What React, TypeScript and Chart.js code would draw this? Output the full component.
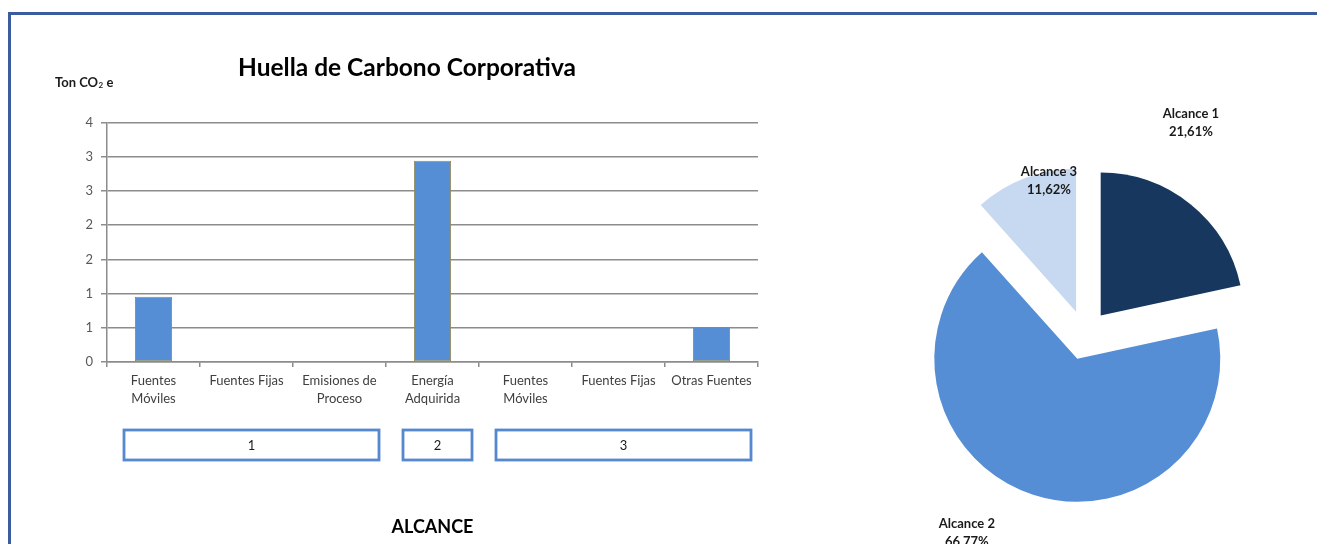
import React, { useEffect, useRef } from "react";
import { Chart, registerables } from "chart.js";

Chart.register(...registerables);

const FONT = "Lato, 'Open Sans', sans-serif";

// ---- data ----
const categoryLabels: string[][] = [
  ["Fuentes", "Móviles"],
  ["Fuentes Fijas"],
  ["Emisiones de", "Proceso"],
  ["Energía", "Adquirida"],
  ["Fuentes", "Móviles"],
  ["Fuentes Fijas"],
  ["Otras Fuentes"],
];
const emissionValues = [0.9515, 0, 0, 2.94, 0, 0, 0.5116];
const categoryScope = [1, 1, 1, 2, 3, 3, 3];
const scopeNumbers = ["1", "2", "3"];
const scopeNames = ["Alcance 1", "Alcance 2", "Alcance 3"];
const yTickLabels = ["0", "1", "1", "2", "2", "3", "3", "4"];
const yMax = 3.5;
const yStep = 0.5;

const scopeTotals = scopeNumbers.map((_, i) =>
  emissionValues.reduce((s, v, k) => (categoryScope[k] === i + 1 ? s + v : s), 0)
);

// ---- styles ----
const barFill = "#558ED5";
const barBorder = "#948A54";
const gridColor = "#8c8c8c";
const scopeColors = ["#17375E", "#558ED5", "#C6D9F1"];
const boxColor = "#5688CF";
const explodeDistance = 25;
const pieRadius = 143;
// label placement: angular shift (deg) from slice middle and distance as radius factor
const pieLabelPlacement = [
  { shift: -12.4, dist: 1.66 },
  { shift: 12.9, dist: 1.61 },
  { shift: 7.8, dist: 1.11 },
];

const unitLabelPlugin = {
  id: "unitLabel",
  afterDraw(chart: any) {
    const { ctx, chartArea } = chart;
    const x = chartArea.left - 52;
    const y = chartArea.top - 40;
    ctx.save();
    ctx.fillStyle = "#1a1a1a";
    ctx.textBaseline = "middle";
    ctx.textAlign = "left";
    ctx.font = `bold 13px ${FONT}`;
    const a = "Ton CO";
    ctx.fillText(a, x, y);
    let w = ctx.measureText(a).width;
    ctx.font = `bold 8px ${FONT}`;
    ctx.fillText("2", x + w + 0.5, y + 3);
    w += ctx.measureText("2").width + 0.5;
    ctx.font = `bold 13px ${FONT}`;
    ctx.fillText(" e", x + w, y);
    ctx.restore();
  },
};

const groupBoxPlugin = {
  id: "groupBoxes",
  afterDraw(chart: any) {
    const { ctx, chartArea } = chart;
    const xs = chart.scales.x;
    const half = (xs.getPixelForValue(1) - xs.getPixelForValue(0)) / 2;
    const top = chartArea.bottom + 68;
    const h = 30;
    ctx.save();
    scopeNumbers.forEach((num, gi) => {
      const idx = categoryScope
        .map((s, k) => (s === gi + 1 ? k : -1))
        .filter((k) => k >= 0);
      const left = xs.getPixelForValue(idx[0]) - half + 17;
      const right = xs.getPixelForValue(idx[idx.length - 1]) + half - 7;
      ctx.strokeStyle = boxColor;
      ctx.lineWidth = 2.8;
      ctx.strokeRect(left, top, right - left, h);
      ctx.fillStyle = "#1a1a1a";
      ctx.font = `13px ${FONT}`;
      ctx.textAlign = "center";
      ctx.textBaseline = "middle";
      ctx.fillText(num, (left + right) / 2, top + h / 2 + 1);
    });
    ctx.restore();
  },
};

const explodePlugin = {
  id: "explodeArcs",
  beforeDatasetDraw(chart: any, args: any) {
    const ctx = chart.ctx;
    args.meta.data.forEach((arc: any) => {
      const mid = (arc.startAngle + arc.endAngle) / 2;
      ctx.save();
      ctx.translate(Math.cos(mid) * explodeDistance, Math.sin(mid) * explodeDistance);
      arc.draw(ctx, chart.chartArea);
      ctx.restore();
    });
    return false;
  },
};

const pieLabelPlugin = {
  id: "pieLabels",
  afterDraw(chart: any) {
    const ctx = chart.ctx;
    const meta = chart.getDatasetMeta(0);
    const total = scopeTotals.reduce((a, b) => a + b, 0);
    ctx.save();
    ctx.fillStyle = "#1a1a1a";
    ctx.font = `bold 13px ${FONT}`;
    ctx.textAlign = "center";
    ctx.textBaseline = "middle";
    meta.data.forEach((arc: any, i: number) => {
      const p = pieLabelPlacement[i];
      const mid = (arc.startAngle + arc.endAngle) / 2 + (p.shift * Math.PI) / 180;
      const r = arc.outerRadius * p.dist;
      const cx = arc.x + Math.cos(mid) * r;
      const cy = arc.y + Math.sin(mid) * r;
      const pct = ((scopeTotals[i] / total) * 100).toFixed(2).replace(".", ",") + "%";
      ctx.fillText(scopeNames[i], cx, cy - 9);
      ctx.fillText(pct, cx, cy + 9);
    });
    ctx.restore();
  },
};

export default function App() {
  const barRef = useRef<HTMLCanvasElement | null>(null);
  const pieRef = useRef<HTMLCanvasElement | null>(null);

  useEffect(() => {
    const bar = new Chart(barRef.current as HTMLCanvasElement, {
      type: "bar",
      data: {
        labels: categoryLabels as any,
        datasets: [
          {
            data: emissionValues,
            backgroundColor: barFill,
            borderColor: barBorder,
            borderWidth: 1,
            borderSkipped: false,
            barPercentage: 0.4,
            categoryPercentage: 1,
          },
        ],
      },
      options: {
        animation: false,
        responsive: true,
        maintainAspectRatio: false,
        layout: { padding: { left: 56, right: 42, top: 0, bottom: 0 } },
        plugins: {
          legend: { display: false },
          tooltip: { enabled: false },
          title: {
            display: true,
            text: "Huella de Carbono Corporativa",
            color: "#000",
            font: { family: FONT, size: 24.5, weight: "bold", lineHeight: 1.2 },
            padding: { top: 53, bottom: 40 },
          },
        },
        scales: {
          x: {
            grid: { drawOnChartArea: false, drawTicks: true, tickLength: 5, color: gridColor, lineWidth: 1.5 },
            border: { display: true, color: gridColor, width: 1.5 },
            ticks: {
              color: "#404040",
              font: { family: FONT, size: 13, lineHeight: 1.45 },
              padding: 4,
              maxRotation: 0,
              autoSkip: false,
            },
            title: {
              display: true,
              text: "ALCANCE",
              color: "#000",
              font: { family: FONT, size: 18, weight: "bold", lineHeight: 1.2 },
              padding: { top: 0, bottom: 6 },
            },
            afterFit: (s: any) => {
              s.height = 182;
            },
          },
          y: {
            min: 0,
            max: yMax,
            ticks: {
              stepSize: yStep,
              callback: (_v: any, i: number) => yTickLabels[i],
              color: "#595959",
              font: { family: FONT, size: 13 },
              padding: 8,
            },
            grid: { color: gridColor, lineWidth: 1.5, tickLength: 6 },
            border: { display: true, color: gridColor, width: 1.5 },
            afterFit: (s: any) => {
              s.width = 51;
            },
          },
        },
      } as any,
      plugins: [unitLabelPlugin, groupBoxPlugin],
    });

    const pie = new Chart(pieRef.current as HTMLCanvasElement, {
      type: "pie",
      data: {
        labels: scopeNames,
        datasets: [
          {
            data: scopeTotals,
            backgroundColor: scopeColors,
            borderWidth: 0,
          },
        ],
      },
      options: {
        animation: false,
        responsive: true,
        maintainAspectRatio: false,
        radius: pieRadius,
        layout: { padding: { left: 65, right: 32, top: 135, bottom: 9 } },
        plugins: { legend: { display: false }, tooltip: { enabled: false } },
      } as any,
      plugins: [explodePlugin, pieLabelPlugin],
    });

    return () => {
      bar.destroy();
      pie.destroy();
    };
  }, []);

  return (
    <div style={{ position: "fixed", left: 0, top: 0, width: 1317, height: 544, background: "#fff", overflow: "hidden" }}>
      <div
        style={{
          position: "absolute",
          left: 8,
          top: 12,
          width: 1309,
          height: 532,
          borderTop: "3px solid #3B5C9E",
          borderLeft: "3px solid #3B5C9E",
          boxSizing: "border-box",
        }}
      />
      <div style={{ position: "absolute", left: 0, top: 0, width: 800, height: 544 }}>
        <canvas ref={barRef} />
      </div>
      <div style={{ position: "absolute", left: 820, top: 0, width: 497, height: 544 }}>
        <canvas ref={pieRef} />
      </div>
    </div>
  );
}
